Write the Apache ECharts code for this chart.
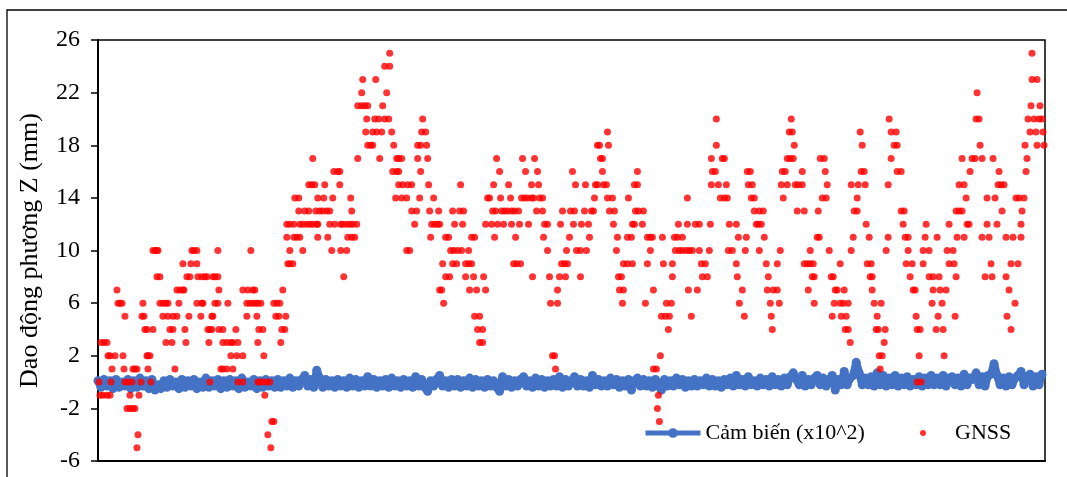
<!DOCTYPE html>
<html>
<head>
<meta charset="utf-8">
<script src="https://cdn.jsdelivr.net/npm/echarts@6/dist/echarts.min.js"></script>
<style>
  html, body { margin: 0; padding: 0; background: #fff; }
  #chart { width: 1067px; height: 477px; }
</style>
</head>
<body>
<div id="chart"></div>
<script>
// Vertical displacement record (Z direction), mm.
// Y-axis tick labels
const yTicks = [-6, -2, 2, 6, 10, 14, 18, 22, 26];

// Series names
const sensorName = 'Cảm biến (x10^2)';
const gnssName = 'GNSS';

// Sensor readings (x10^2 mm), one value every 3 epochs starting at epoch 0
const sensorStep = 3;
const sensorZ = [
  0.1, -0.4, 0.2, -0.3, 0.1, -0.5, 0.2, -0.4, 0.0, -0.3, 0.2, -0.5, 0.1, -0.4, 0.3, -0.3, 0.1, -0.5, 0.2, -0.6,
  -0.2, -0.5, 0.1, -0.4, 0.2, -0.3, 0.0, -0.5, 0.2, -0.4, 0.1, -0.3, 0.2, -0.5, 0.0, -0.4, 0.3, -0.4, 0.1, -0.3,
  0.2, -0.5, 0.1, -0.4, 0.2, -0.3, 0.1, -0.5, 0.3, -0.4, 0.0, -0.3, 0.2, -0.5, 0.1, -0.4, 0.2, -0.3, 0.1, -0.4,
  0.2, -0.4, 0.1, -0.3, 0.3, -0.4, 0.1, -0.3, 0.2, 0.5, -0.3, 0.2, -0.4, 0.9, 0.3, -0.4, 0.2, -0.3, 0.1, -0.4,
  0.2, -0.3, 0.1, -0.4, 0.3, -0.3, 0.2, -0.4, 0.1, -0.3, 0.4, -0.3, 0.2, -0.4, 0.1, -0.3, 0.2, -0.4, 0.3, -0.3,
  0.1, -0.4, 0.2, -0.3, 0.1, -0.4, 0.4, -0.3, 0.2, -0.4, -0.7, 0.1, -0.3, 0.2, 0.5, -0.3, 0.1, -0.4, 0.2, -0.3,
  0.2, -0.4, 0.1, -0.3, 0.3, -0.4, 0.2, -0.3, 0.1, -0.4, 0.2, -0.3, 0.1, -0.4, -0.7, 0.4, -0.3, 0.2, -0.4, 0.1,
  -0.3, 0.2, 0.4, -0.3, 0.1, -0.4, 0.3, -0.3, 0.2, -0.4, 0.1, -0.3, 0.2, -0.3, 0.4, -0.4, 0.2, -0.3, 0.1, 0.4,
  -0.3, 0.2, -0.3, 0.1, -0.4, 0.5, -0.2, 0.2, -0.3, 0.1, -0.3, 0.3, -0.2, 0.2, -0.4, 0.1, -0.3, 0.2, -0.6, 0.1,
  0.3, -0.3, 0.2, -0.3, 0.1, -0.4, 0.2, -0.3, -0.6, 0.2, -0.3, 0.1, -0.3, 0.3, -0.2, 0.2, -0.4, 0.1, -0.3, 0.2,
  -0.3, 0.1, -0.2, 0.3, -0.3, 0.2, -0.3, 0.1, -0.4, 0.2, -0.2, 0.3, -0.3, 0.5, -0.2, 0.2, -0.3, 0.4, -0.2, 0.1,
  -0.3, 0.3, -0.2, 0.2, -0.3, 0.4, -0.2, 0.2, -0.3, 0.3, -0.2, 0.4, 0.7, 0.2, -0.2, 0.5, -0.3, 0.2, -0.2, 0.3,
  0.5, -0.2, 0.3, -0.3, 0.2, 0.5, -0.6, 0.2, -0.2, 0.8, -0.2, 0.3, 0.5, 1.5, 0.7, -0.2, 0.3, -0.2, 0.4, -0.3,
  0.7, -0.2, 0.5, -0.3, 0.3, -0.2, 0.5, -0.3, 0.3, -0.2, 0.4, -0.3, 0.2, -0.2, 0.4, -0.3, 0.3, -0.2, 0.5, -0.2,
  0.3, -0.2, 0.5, -0.3, 0.3, 0.4, -0.2, 0.3, -0.3, 0.6, -0.2, 0.3, 0.2, 0.7, -0.2, 0.4, -0.3, 0.5, 0.6, 1.4,
  0.5, -0.2, 0.3, -0.3, 0.4, -0.2, 0.3, 0.5, 0.8, -0.2, 0.4, 0.6, -0.3, 0.4, -0.2, 0.6
];

// GNSS solutions: [epoch, Z (mm)]
const gnssPart1 = [
  [1,0],[2,-1],[3,3],[5,-1],[6,3],[9,-1],[9,3],[10,2],[12,-1],[12,2],[13,0],[14,1],[17,2],[19,7],[20,6],[22,6],[24,6],[25,2],[26,1],[27,0],[27,5],
  [29,-2],[30,0],[32,-1],[32,-2],[34,0],[35,-2],[35,1],[37,-2],[37,1],[39,-5],[39,1],[40,-4],[41,-1],[43,0],[44,5],[45,6],[46,5],[47,4],[49,2],[49,4],
  [50,1],[50,2],[52,2],[53,0],[55,4],[55,10],[57,10],[59,8],[59,10],[60,10],[62,8],[62,6],[65,5],[65,6],[68,3],[68,6],[70,5],[70,6],[72,4],[74,3],
  [75,4],[75,5],[77,1],[79,5],[79,7],[81,6],[82,7],[85,9],[85,7],[86,7],[87,4],[88,3],[89,8],[91,5],[92,8],[93,9],[94,10],[96,10],[99,9],[99,10],[99,6],
  [100,8],[103,5],[104,6],[104,8],[105,6],[107,8],[109,8],[110,4],[111,3],[112,0],[112,4],[114,4],[114,5],[115,5],[115,8],[117,6],[117,8],[120,6],
  [120,8],[120,10],[121,4],[121,7],[123,1],[125,1],[125,3],[125,4],[129,1],[129,3],[130,6],[133,2],[133,3],[135,1],[135,3],[138,4],[139,2],[140,3],
  [140,0],[145,2],[145,0],[145,7],[149,5],[149,6],[150,7],[152,6],[153,10],[155,6],[155,7],[157,7],[159,5],[160,3],[161,4],[162,0]
];
const gnssPart2 = [
  [160,0],[165,0],[169,0],[172,0],[167,-1],[174,-3],[176,-3],[170,-4],[173,-5],[166,2],[183,3],[165,4],[184,4],[187,4],[178,5],[181,5],[188,5],
  [158,6],[160,6],[163,6],[176,6],[179,6],[182,6],[185,7],[246,8],[190,9],[192,9],[195,9],[192,10],[205,10],[234,10],[243,10],[249,10],
  [189,11],[196,11],[199,11],[202,11],[220,11],[230,11],[250,11],[254,11],[257,11],
  [189,12],[192,12],[196,12],[202,12],[205,12],[209,12],[212,12],[215,12],[219,12],[220,12],[232,12],[237,12],[243,12],[245,12],[249,12],[252,12],[255,12],[259,12],
  [201,13],[207,13],[211,13],[218,13],[222,13],[225,13],[229,13],[232,13],[254,13],[197,14],[201,14],[220,14],[226,14],[235,14],[253,14],
  [211,15],[214,15],[217,15],[227,15],[242,15],[236,16],[240,16],[242,16],[215,17],[260,17],[282,17],[270,18],[273,18],[275,18],[296,18],
  [268,19],[275,19],[279,19],[284,19],[294,19],[269,20],[277,20],[281,20],[287,20],[291,20],[260,21],[264,21],[267,21],[270,21],[285,21],
  [264,22],[289,22],[265,23],[278,23],[287,24],[292,24],[292,25],
  [299,17],[301,17],[304,17],[295,16],[299,16],[301,16],[301,15],[305,15],[310,15],[314,15],[298,14],[304,14],[309,14],[314,13],[309,10],[312,10]
];
const gnssPart3 = [
  [325,20],[324,19],[328,19],[320,18],[323,18],[329,18],[320,17],[330,17],[399,17],[425,17],[437,17],[323,16],[402,16],[428,16],[440,16],[475,16],
  [331,15],[363,15],[396,15],[411,15],[434,15],[441,15],[478,15],
  [322,14],[336,14],[390,14],[392,14],[403,14],[413,14],[424,14],[427,14],[430,14],[434,14],[436,14],[442,14],[445,14],
  [319,13],[332,13],[341,13],[355,13],[362,13],[366,13],[395,13],[398,13],[404,13],[407,13],[410,13],[414,13],[417,13],[421,13],[439,13],[445,13],[465,13],[473,13],[477,13],
  [317,12],[334,12],[337,12],[340,12],[342,12],[357,12],[365,12],[388,12],[394,12],[400,12],[406,12],[414,12],[422,12],[431,12],[447,12],[450,12],[463,12],[476,12],
  [333,11],[348,11],[351,11],[374,11],[377,11],[397,11],[418,11],[446,11],[472,11],
  [353,10],[356,10],[360,10],[364,10],[371,10],[450,10],[469,10],[479,10],
  [345,9],[355,9],[359,9],[368,9],[371,9],[374,9],[416,9],[419,9],[423,9],[464,9],[467,9],[470,9],
  [348,8],[352,8],[368,8],[376,8],[386,8],[435,8],[452,8],[462,8],[468,8],[483,8],
  [342,7],[344,7],[372,7],[379,7],[388,7],[460,7],[346,6],[453,6],[460,6],[377,5],[382,5],[380,4],[385,4],[382,3],[385,3],[455,2],[457,2],[458,1]
];
const gnssPart4 = [
  [619,20],[510,19],[500,18],[502,18],[511,18],[619,18],[503,17],[505,17],[614,17],[625,17],[627,17],[505,16],[540,16],[615,16],[618,16],
  [488,15],[498,15],[500,15],[506,15],[509,15],[537,15],[540,15],[614,15],[621,15],[629,15],
  [497,14],[510,14],[515,14],[531,14],[590,14],[623,14],[627,14],[630,14],
  [487,13],[494,13],[496,13],[512,13],[517,13],[538,13],[541,13],[546,13],
  [484,12],[491,12],[516,12],[535,12],[537,12],[545,12],[581,12],[590,12],[598,12],[602,12],[613,12],[632,12],[639,12],
  [492,11],[520,11],[530,11],[534,11],[550,11],[553,11],[555,11],[565,11],[577,11],[580,11],[585,11],
  [483,10],[489,10],[519,10],[553,10],[578,10],[582,10],[585,10],[589,10],[592,10],[595,10],[602,10],[612,10],[631,10],[635,10],
  [526,9],[530,9],[535,9],[550,9],[566,9],[575,9],[604,9],[608,9],[639,9],
  [521,8],[524,8],[575,8],[605,8],[610,8],[640,8],[522,7],[526,7],[556,7],[591,7],[600,7],
  [525,6],[548,6],[569,6],[574,6],[642,6],[564,5],[568,5],[572,5],[594,5],[571,4],[563,2],[556,1],[559,1],[561,-1],[560,-2],[562,-3]
];
const gnssPart5 = [
  [694,20],[792,20],[692,19],[695,19],[763,19],[794,19],[799,19],[697,18],[765,18],[797,18],[800,18],
  [690,17],[693,17],[696,17],[723,17],[727,17],[794,17],
  [650,16],[653,16],[685,16],[688,16],[705,16],[728,16],[764,16],[767,16],[800,16],
  [651,15],[655,15],[684,15],[690,15],[698,15],[701,15],[705,15],[730,15],[754,15],[761,15],[768,15],[791,15],
  [654,14],[657,14],[686,14],[725,14],[729,14],[760,14],
  [657,13],[662,13],[666,13],[700,13],[707,13],[721,13],[757,13],[760,13],[659,12],[661,12],[664,12],[769,12],
  [641,11],[649,11],[667,11],[720,11],[722,11],[756,11],[772,11],[791,11],
  [648,10],[662,10],[683,10],[713,10],[732,10],[754,10],[789,10],
  [669,9],[680,9],[707,9],[710,9],[713,9],[716,9],[743,9],[770,9],[774,9],
  [671,8],[715,8],[717,8],[734,8],[736,8],[773,8],[775,8],
  [645,7],[670,7],[676,7],[680,7],[711,7],[738,7],[740,7],[747,7],[775,7],
  [673,6],[682,6],[717,6],[737,6],[743,6],[746,6],[751,6],[777,6],[784,6],
  [647,5],[674,5],[735,5],[744,5],[749,5],[780,5],[675,4],[748,4],[751,4],[779,4],[781,4],[788,4],
  [753,3],[787,3],[782,2],[785,2],[783,1]
];
const gnssPart6 = [
  [935,25],[935,23],[940,23],[880,22],[934,21],[943,21],[879,20],[882,20],[931,20],[937,20],[942,20],[945,20],
  [933,19],[939,19],[946,19],[883,18],[928,18],[940,18],[947,18],
  [865,17],[875,17],[878,17],[885,17],[896,17],[930,17],[804,16],[873,16],[902,16],[929,16],
  [862,15],[867,15],[901,15],[904,15],[907,15],[869,14],[890,14],[898,14],[919,14],[922,14],[927,14],
  [804,13],[807,13],[859,13],[862,13],[865,13],[905,13],[925,13],
  [806,12],[829,12],[852,12],[870,12],[872,12],[890,12],[900,12],[924,12],
  [808,11],[811,11],[828,11],[840,11],[860,11],[867,11],[885,11],[892,11],[909,11],[916,11],[924,11],
  [811,10],[826,10],[832,10],[850,10],[856,10],
  [809,9],[815,9],[826,9],[852,9],[857,9],[894,9],[914,9],[921,9],
  [813,8],[832,8],[836,8],[842,8],[859,8],[888,8],[895,8],[909,8],
  [816,7],[818,7],[836,7],[843,7],[849,7],[912,7],[835,6],[845,6],[918,6],
  [819,5],[841,5],[858,5],[910,5],[820,4],[823,4],[839,4],[846,4],[914,4],[822,2],[847,2],[820,0],[824,0]
];

const gnssData = [].concat(gnssPart1, gnssPart2, gnssPart3, gnssPart4, gnssPart5, gnssPart6);
const sensorData = sensorZ.map((v, i) => [i * sensorStep, v]);

const serif = '"Liberation Serif", "Times New Roman", serif';
const chart = echarts.init(document.getElementById('chart'), null, { renderer: 'canvas' });

chart.setOption({
  animation: false,
  backgroundColor: '#fff',
  graphic: [{
    type: 'rect',
    silent: true,
    shape: { x: 7, y: 10, width: 1100, height: 520 },
    style: { fill: 'none', stroke: '#000', lineWidth: 1.3 }
  }],
  grid: {
    left: 98, right: 22, top: 40, bottom: 16,
    show: true, borderColor: '#000', borderWidth: 1.5, backgroundColor: 'transparent'
  },
  legend: [{
    data: [sensorName],
    left: 643, top: 422, padding: 0,
    itemWidth: 55, itemHeight: 12, itemGap: 0,
    lineStyle: { width: 5 },
    itemStyle: { borderWidth: 0 },
    textStyle: { fontFamily: serif, fontSize: 22, color: '#000' }
  }, {
    data: [{ name: gnssName, icon: 'circle' }],
    left: 920, top: 422, padding: 0,
    itemWidth: 6, itemHeight: 6,
    textStyle: { fontFamily: serif, fontSize: 22, color: '#000', padding: [0, 0, 0, 24] }
  }],
  xAxis: {
    type: 'value', min: 0, max: 948,
    axisLine: { show: true, onZero: false, lineStyle: { color: '#000', width: 2 } },
    axisTick: { show: false }, axisLabel: { show: false }, splitLine: { show: false }
  },
  yAxis: {
    type: 'value', min: -6, max: 26,
    name: 'Dao động phương Z (mm)',
    nameLocation: 'middle', nameGap: 55,
    nameTextStyle: { fontFamily: serif, fontSize: 26, color: '#000' },
    axisLine: { show: true, lineStyle: { color: '#000', width: 2 } },
    axisTick: { show: true, inside: false, length: 7, customValues: yTicks, lineStyle: { color: '#000', width: 1.5 } },
    axisLabel: { customValues: yTicks, margin: 18, fontFamily: serif, fontSize: 24, color: '#000' },
    splitLine: { show: false }
  },
  series: [{
    name: sensorName,
    type: 'line',
    data: sensorData,
    symbol: 'circle', symbolSize: 9, showSymbol: true,
    lineStyle: { color: '#4472C4', width: 8 },
    itemStyle: { color: '#4472C4' },
    z: 2
  }, {
    name: gnssName,
    type: 'scatter',
    data: gnssData,
    symbol: 'circle', symbolSize: 7,
    itemStyle: { color: '#FF0000' },
    z: 3
  }]
});
</script>
</body>
</html>
